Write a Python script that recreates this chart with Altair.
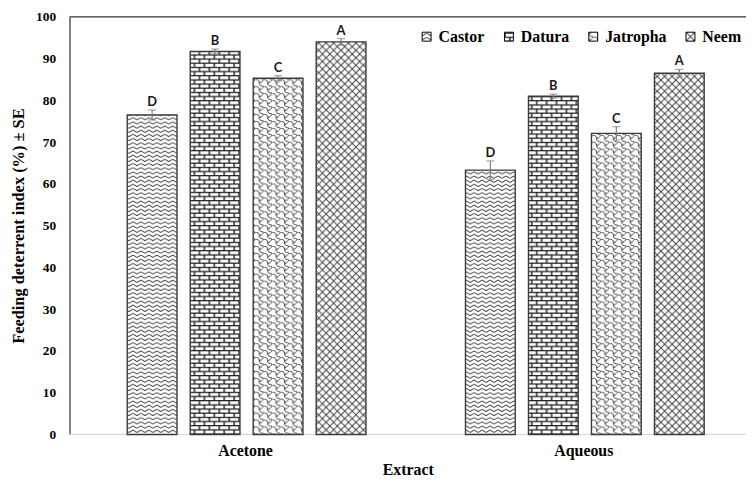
import altair as alt
import pandas as pd
import jinja2

extracts = ["Acetone", "Aqueous"]
species = ["Castor", "Datura", "Jatropha", "Neem"]
acetone_mean = [76.5, 91.7, 85.3, 94.0]
aqueous_mean = [63.3, 81.0, 72.1, 86.5]
acetone_se = [1.2, 0.6, 0.6, 0.8]
aqueous_se = [2.2, 0.5, 1.6, 0.9]
acetone_letters = ["D", "B", "C", "A"]
aqueous_letters = ["D", "B", "C", "A"]
pattern_fills = ["url(#pCastor)", "url(#pDatura)", "url(#pJatropha)", "url(#pNeem)"]

rows = []
for ext, means, ses, lets in [
    ("Acetone", acetone_mean, acetone_se, acetone_letters),
    ("Aqueous", aqueous_mean, aqueous_se, aqueous_letters),
]:
    for sp, m, s, l in zip(species, means, ses, lets):
        rows.append({"extract": ext, "species": sp, "mean": m, "se": s, "letter": l})
df = pd.DataFrame(rows)

SERIF = "Liberation Serif"

x_scale = alt.Scale(paddingInner=0, paddingOuter=0)
x_enc = alt.X(
    "extract:N", sort=extracts, scale=x_scale,
    axis=alt.Axis(title="Extract", labelAngle=0, ticks=False, domain=False,
                  labelFont=SERIF, labelFontSize=16, labelFontWeight="bold",
                  labelColor="#000", labelPadding=8, labelOffset=7,
                  titleFont=SERIF, titleFontSize=16,
                  titleFontWeight="bold", titleColor="#000", titlePadding=3),
)
x_plain = alt.X("extract:N", sort=extracts, scale=x_scale)
xo_enc = alt.XOffset("species:N", sort=species,
                     scale=alt.Scale(paddingInner=0.21, paddingOuter=0.79, align=0.58))
y_scale = alt.Scale(domain=[0, 100], nice=False)

base = alt.Chart(df)

bars = base.mark_bar(stroke="#3a3a3a", strokeWidth=1.4).encode(
    x=x_enc,
    xOffset=xo_enc,
    y=alt.Y("mean:Q", scale=y_scale,
            axis=alt.Axis(title="Feeding deterrent index (%) ± SE", values=list(range(0, 101, 10)),
                          ticks=False, grid=False, domainColor="#000", domainWidth=1,
                          labelFont=SERIF, labelFontSize=13.5, labelFontWeight="bold",
                          labelColor="#000", labelPadding=14, titleFont=SERIF,
                          titleFontSize=16.5, titleFontWeight="bold", titleColor="#000",
                          titlePadding=9)),
    fill=alt.Fill("species:N", sort=species,
                  scale=alt.Scale(domain=species, range=pattern_fills),
                  legend=alt.Legend(title=None, orient="none", legendX=352, legendY=12,
                                    direction="horizontal", columns=4, symbolType="square",
                                    symbolSize=81, symbolStrokeColor="#000",
                                    symbolStrokeWidth=1, labelFont=SERIF, labelFontSize=16,
                                    labelFontWeight="bold", labelColor="#000",
                                    labelOffset=4, columnPadding=16)),
)

err = base.transform_calculate(lo="datum.mean - datum.se", hi="datum.mean + datum.se")

err_rule = err.mark_rule(color="#7f7f7f", strokeWidth=1.2).encode(
    x=x_plain, xOffset=xo_enc,
    y=alt.Y("lo:Q", scale=y_scale), y2="hi:Q",
)
cap_hi = err.mark_tick(color="#7f7f7f", thickness=1.2, size=8, orient="horizontal").encode(
    x=x_plain, xOffset=xo_enc,
    y=alt.Y("hi:Q", scale=y_scale),
)
cap_lo = err.mark_tick(color="#7f7f7f", thickness=1.2, size=8, orient="horizontal").encode(
    x=x_plain, xOffset=xo_enc,
    y=alt.Y("lo:Q", scale=y_scale),
)
letters = err.mark_text(font="Lato", fontSize=13, fontWeight="bold", color="#1a1a1a",
                        baseline="alphabetic", dy=-4).encode(
    x=x_plain, xOffset=xo_enc,
    y=alt.Y("hi:Q", scale=y_scale),
    text="letter:N",
)
frame = pd.DataFrame({"level": [100, 0], "col": ["#333333", "#d9d9d9"]})
frame_lines = alt.Chart(frame).mark_rule(strokeWidth=1.3).encode(
    y=alt.Y("level:Q", scale=y_scale),
    color=alt.Color("col:N", scale=None, legend=None),
)

chart = alt.layer(frame_lines, bars, err_rule, cap_hi, cap_lo, letters).properties(
    width=745, height=471,
    autosize=alt.AutoSizeParams(type="fit", contains="padding"),
    padding={"left": 2, "top": 0, "right": 0, "bottom": 0},
).configure_view(stroke=None)

PATTERNS = """
<svg width="0" height="0" style="position:absolute;left:0;top:0" aria-hidden="true">
 <defs>
  <pattern id="pCastor" patternUnits="userSpaceOnUse" width="8" height="4.2">
   <rect width="8" height="4.2" fill="#fff"/>
   <path d="M0,0.8 L4,3.1 L8,0.8" fill="none" stroke="#2a2a2a" stroke-width="0.9"/>
  </pattern>
  <pattern id="pDatura" patternUnits="userSpaceOnUse" width="10" height="8.4">
   <rect width="10" height="8.4" fill="#fff"/>
   <path d="M0,0.6 H10 M0,4.8 H10 M1,0.6 V4.8 M6,4.8 V8.4" fill="none" stroke="#111" stroke-width="1.35"/>
  </pattern>
  <pattern id="pJatropha" patternUnits="userSpaceOnUse" width="8.5" height="7">
   <rect width="8.5" height="7" fill="#fff"/>
   <path d="M0,0 Q4.25,0 4.25,3.5 Q4.25,7 8.5,7 M4.25,3.5 C6.4,3.5 7.6,2.1 8.5,0 M-4.25,3.5 C-2.1,3.5 -0.9,2.1 0,0 M12.75,3.5 C14.9,3.5 16.1,2.1 17,0" fill="none" stroke="#2a2a2a" stroke-width="0.9"/>
  </pattern>
  <pattern id="pNeem" patternUnits="userSpaceOnUse" width="7.5" height="7.5">
   <rect width="7.5" height="7.5" fill="#fff"/>
   <path d="M-1,-1 L8.5,8.5 M8.5,-1 L-1,8.5" fill="none" stroke="#444" stroke-width="1"/>
  </pattern>
 </defs>
</svg>
"""

TEMPLATE = jinja2.Template("""<!DOCTYPE html>
<html>
<head>
  <style>
    #{{ output_div }}.vega-embed { width: 100%; display: flex; }
    #{{ output_div }}.vega-embed details,
    #{{ output_div }}.vega-embed details summary { position: relative; }
  </style>
  <script type="text/javascript" src="{{ base_url }}/vega@{{ vega_version }}"></script>
  <script type="text/javascript" src="{{ base_url }}/vega-lite@{{ vegalite_version }}"></script>
  <script type="text/javascript" src="{{ base_url }}/vega-embed@{{ vegaembed_version }}"></script>
</head>
<body>
""" + PATTERNS + """
  <div id="{{ output_div }}"></div>
  <script>
    (function(vegaEmbed) {
      var spec = {{ spec }};
      var embedOpt = {{ embed_options }};
      const el = document.getElementById('{{ output_div }}');
      vegaEmbed("#{{ output_div }}", spec, embedOpt).catch(function(error) {
        el.innerHTML = '<div style="color:red;">' + error.message + '</div>';
      });
    })(vegaEmbed);
  </script>
</body>
</html>
""")

chart.save("out.html", embed_options={"renderer": "svg", "actions": False}, template=TEMPLATE)
